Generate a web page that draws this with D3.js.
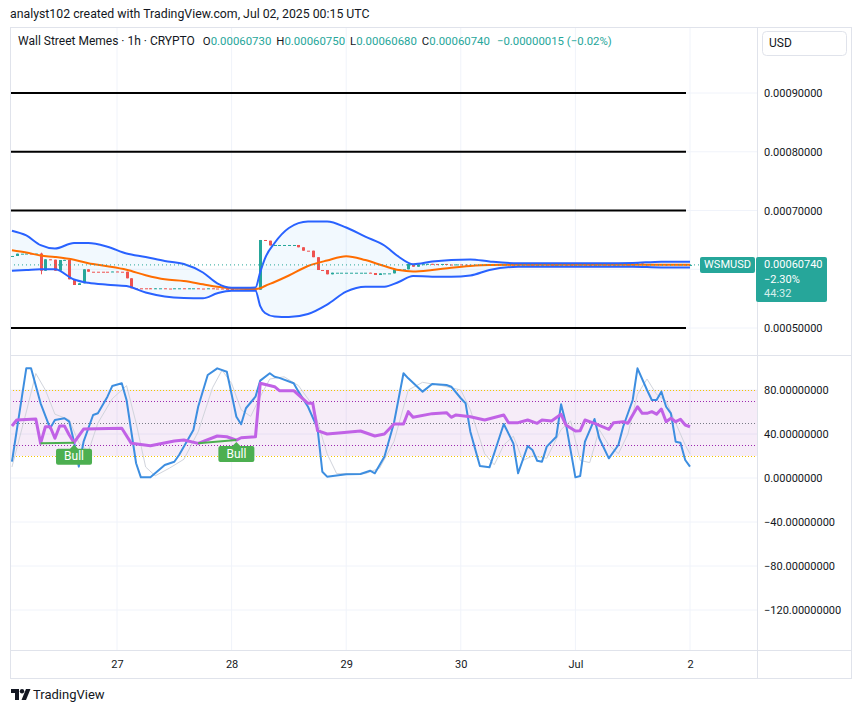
<!DOCTYPE html>
<html>
<head>
<meta charset="utf-8">
<script src="https://cdnjs.cloudflare.com/ajax/libs/d3/7.8.5/d3.min.js"></script>
<style>
  body { margin: 0; background: #ffffff; }
  svg text { font-family: Roboto, "Liberation Sans", sans-serif; fill: #131722; }
</style>
</head>
<body>
<div id="chart"></div>
<script>

// ---- data ----

// hourly bars, first one is Jun 26 02:00 UTC
var firstBarTime = Date.UTC(2025, 5, 26, 2);
var firstOpen = 0.0006224;
var closes = [
  0.0006226, 0.0006265, 0.0006265, 0.0006267, 0.0006265, 0.0006267, 0.0005975, 0.0006169, 0.0006163, 0.0005975,
  0.0006157, 0.0006160, 0.0005829, 0.0005732, 0.0005761, 0.0005999, 0.0005958, 0.0005958, 0.0005958, 0.0005958,
  0.0005958, 0.0005962, 0.0005958, 0.0005958, 0.0005846, 0.0005676, 0.0005676, 0.0005676, 0.0005676, 0.0005665,
  0.0005676, 0.0005676, 0.0005672, 0.0005672, 0.0005676, 0.0005676, 0.0005672, 0.0005676, 0.0005676, 0.0005672,
  0.0005672, 0.0005676, 0.0005672, 0.0005672, 0.0005666, 0.0005664, 0.0005652, 0.0005652, 0.0005652, 0.0005652,
  0.0005652, 0.0005652, 0.0006498, 0.0006486, 0.0006405, 0.0006413, 0.0006413, 0.0006413, 0.0006413, 0.0006413,
  0.0006374, 0.0006316, 0.0006316, 0.0006205, 0.0005987, 0.0005987, 0.0005914, 0.0005941, 0.0005941, 0.0005941,
  0.0005941, 0.0005941, 0.0005941, 0.0005941, 0.0005941, 0.0005936, 0.0005902, 0.0005930, 0.0005930, 0.0005930,
  0.0005999, 0.0005999, 0.0005999, 0.0006089, 0.0006043, 0.0006084, 0.0006086, 0.0006092, 0.0006088, 0.0006088,
  0.0006090, 0.0006080, 0.0006076, 0.0006082, 0.0006078, 0.0006076, 0.0006074, 0.0006076, 0.0006072, 0.0006078,
  0.0006082, 0.0006080, 0.0006078, 0.0006081, 0.0006079, 0.0006075, 0.0006077, 0.0006079, 0.0006076, 0.0006073,
  0.0006076, 0.0006078, 0.0006074, 0.0006071, 0.0006074, 0.0006077, 0.0006075, 0.0006072, 0.0006076, 0.0006078,
  0.0006075, 0.0006073, 0.0006076, 0.0006079, 0.0006076, 0.0006074, 0.0006077, 0.0006080, 0.0006077, 0.0006075,
  0.0006079, 0.0006098, 0.0006084, 0.0006082, 0.0006086, 0.0006080, 0.0006083, 0.0006079, 0.0006084, 0.0006078,
  0.0006081, 0.00060755, 0.0006074
];
// bars whose open is not the previous close: [bar, open]
var openFix = [[142, 0.0006073]];
// bars with visible wicks: [bar, high, low]
var wicks = [[6, 0.0006282, 0.0005914], [131, 0.0006119, 0.0006079], [142, 0.0006075, 0.0006068]];

// Bollinger bands, read at these bars
var bbIndex = [0, 3, 6, 9, 13, 16, 20, 24, 28, 32, 36, 40, 43, 46, 49, 51, 52, 53, 55, 58,
  62, 66, 70, 74, 78, 81, 84, 88, 92, 96, 100, 106, 112, 118, 124, 130, 136, 142];
var bbUpper = [0.0006656, 0.0006575, 0.0006410, 0.0006353, 0.0006447, 0.0006447, 0.0006384, 0.0006268, 0.0006209, 0.0006140,
  0.0006089, 0.0005945, 0.0005761, 0.0005686, 0.0005686, 0.0005689, 0.0005953, 0.0006186, 0.0006447, 0.0006702,
  0.0006813, 0.0006813, 0.0006711, 0.0006554, 0.0006404, 0.0006213, 0.0006084, 0.0006130, 0.0006157, 0.0006166,
  0.0006132, 0.0006101, 0.0006101, 0.0006101, 0.0006101, 0.0006106, 0.0006129, 0.0006129];
var bbMiddle = [0.0006323, 0.0006285, 0.0006234, 0.0006209, 0.0006161, 0.0006101, 0.0006052, 0.0005992, 0.0005899, 0.0005829,
  0.0005800, 0.0005744, 0.0005701, 0.0005672, 0.0005664, 0.0005664, 0.0005676, 0.0005715, 0.0005783, 0.0005894,
  0.0006055, 0.0006149, 0.0006222, 0.0006156, 0.0006054, 0.0005987, 0.0005962, 0.0005987, 0.0006025, 0.0006055,
  0.0006072, 0.0006077, 0.0006077, 0.0006077, 0.0006077, 0.0006077, 0.0006078, 0.0006078];
var bbLower = [0.0005974, 0.0005987, 0.0006001, 0.0005999, 0.0005826, 0.0005769, 0.0005737, 0.0005715, 0.0005604, 0.0005538,
  0.0005512, 0.0005507, 0.0005591, 0.0005635, 0.0005635, 0.0005635, 0.0005374, 0.0005255, 0.0005196, 0.0005187,
  0.0005238, 0.0005398, 0.0005618, 0.0005703, 0.0005703, 0.0005783, 0.0005885, 0.0005873, 0.0005873, 0.0005894,
  0.0005987, 0.0006043, 0.0006043, 0.0006043, 0.0006043, 0.0006043, 0.0006030, 0.0006030];

// the drawn horizontal levels
var levelLines = [0.0005, 0.0007, 0.0008, 0.0009];
var priceGrid = [0.0005, 0.0006, 0.0007, 0.0008, 0.0009];
// 0.0006 sits under the price badge, so no label there
var priceTicks = [0.0005, 0.0007, 0.0008, 0.0009];

// RSI (purple)
var rsiIndex = [0, 1, 5, 6, 7, 8, 9, 10, 11, 12, 13, 15, 23, 25, 29, 34, 36, 39, 43, 45,
  47, 48, 51, 52, 55, 56, 59, 62, 63, 64, 66, 69, 73, 76, 78, 80, 82, 83, 84, 88,
  91, 92, 93, 96, 99, 103, 104, 106, 108, 110, 111, 113, 115, 116, 118, 119, 120, 122, 125, 126,
  128, 129, 130, 131, 132, 133, 134, 135, 136, 137, 138, 139, 140, 141, 142];
var rsiValues = [47.3, 52.7, 53.6, 31.5, 46.6, 46.6, 36.1, 47.3, 47.3, 39.1, 32.1, 44.5, 45.2, 31.5, 29.4, 33.6, 34.5, 31.5, 38.2, 37.5,
  34.5, 36.6, 37.5, 86.1, 83.0, 79.4, 79.4, 67.9, 67.9, 43.0, 40.0, 41.2, 42.7, 38.2, 40.0, 49.1, 49.1, 60.3, 55.2, 58.5,
  59.4, 55.2, 57.3, 55.7, 52.7, 57.3, 50.3, 50.3, 52.7, 49.7, 52.7, 51.8, 57.9, 48.2, 42.7, 43.0, 52.7, 49.7, 44.3, 50.3,
  51.2, 49.7, 57.3, 64.8, 58.8, 58.8, 60.3, 58.0, 62.7, 51.2, 54.3, 51.2, 53.4, 48.2, 46.6];

// Stochastic %K (blue)
var kIndex = [0, 3, 4, 6, 8, 9, 11, 12, 13, 14, 15, 17, 18, 20, 21, 23, 24, 26, 27, 29,
  32, 34, 35, 38, 39, 41, 43, 45, 47, 48, 49, 51, 52, 54, 55, 56, 59, 60, 62, 64,
  65, 66, 70, 73, 75, 76, 78, 80, 82, 83, 86, 88, 91, 92, 94, 95, 96, 98, 100, 101,
  103, 105, 106, 108, 109, 110, 111, 112, 114, 115, 116, 118, 119, 120, 122, 123, 125, 127, 128, 130,
  131, 133, 134, 135, 136, 137, 138, 139, 140, 141, 142];
var kValues = [14.8, 99.7, 99.7, 67.9, 45.2, 52.7, 54.3, 51.2, 33.0, 10.3, 33.0, 57.3, 58.8, 73.9, 83.6, 86.1, 70.9, 13.4, 0.6, 0.6,
  11.8, 14.8, 20.9, 43.6, 64.8, 93.6, 99.7, 96.6, 55.7, 48.8, 63.4, 73.9, 88.5, 95.2, 92.1, 91.0, 86.1, 78.5, 64.8, 45.2,
  5.7, 1.2, 3.4, 3.6, 6.6, 4.3, 19.4, 50.0, 95.2, 90.6, 78.5, 85.5, 84.5, 83.0, 72.5, 67.9, 42.1, 10.9, 9.7, 22.5,
  49.1, 31.5, 4.3, 29.1, 25.5, 15.7, 14.8, 28.5, 37.5, 67.0, 49.7, 0.6, 1.8, 33.0, 53.6, 36.1, 17.9, 30.0, 46.6, 70.9,
  99.7, 80.0, 70.9, 70.9, 78.5, 64.8, 58.8, 33.0, 32.1, 16.4, 10.3];

// Stochastic %D (light grey)
var dIndex = [0, 3, 5, 7, 9, 12, 14, 16, 18, 21, 24, 26, 28, 30, 33, 36, 39, 42, 44, 46,
  48, 50, 52, 54, 57, 60, 63, 66, 68, 74, 77, 80, 83, 86, 90, 94, 96, 99, 101, 103,
  105, 107, 109, 112, 115, 117, 119, 121, 123, 125, 127, 129, 131, 133, 135, 137, 139, 141, 142];
var dValues = [10, 60, 95, 80, 58, 53, 32, 24, 50, 72, 84, 50, 10, 2, 9, 17, 42, 82, 98, 86,
  62, 56, 74, 90, 92, 84, 66, 22, 4, 4, 9, 33, 80, 87, 84, 80, 62, 22, 12, 30,
  38, 16, 20, 18, 44, 52, 16, 14, 44, 30, 22, 40, 76, 90, 76, 70, 50, 30, 22];

// bullish divergences on the RSI: [from bar, to bar]
var bullSignals = [[6, 13], [39, 47]];

var oscTicks = [-120, -80, -40, 0, 40, 80];
var oscBands = {upper: 80, lower: 20, high: 70, mid: 50, low: 30};

var dayTicks = [Date.UTC(2025, 5, 27), Date.UTC(2025, 5, 28), Date.UTC(2025, 5, 29),
  Date.UTC(2025, 5, 30), Date.UTC(2025, 6, 1), Date.UTC(2025, 6, 2)];
var dayLabels = ["27", "28", "29", "30", "Jul", "2"];

var headerNote = "analyst102 created with TradingView.com, Jul 02, 2025 00:15 UTC";
var symbolName = "Wall Street Memes · 1h · CRYPTO";
var ohlcLabels = ["O", "H", "L", "C"];
var ohlcValues = ["0.00060730", "0.00060750", "0.00060680", "0.00060740"];
var changeText = "\u22120.00000015 (\u22120.02%)";
var tickerName = "WSMUSD";
var badgeLines = ["0.00060740", "\u22122.30%", "44:32"];

// ---- layout ----
var svgWidth = 859;
var svgHeight = 714;

var frame = {left: 10, right: 851, top: 27, bottom: 678};
var axisX = 757;
var mainPane = {top: 27, bottom: 355};
var oscPane = {top: 356, bottom: 650};

var teal = "#26a69a";
var red = "#ef5350";

var svg = d3.select("#chart")
  .append("svg")
  .attr("width", svgWidth)
  .attr("height", svgHeight);

var barTime = function(i) { return new Date(firstBarTime + i * 3600 * 1000); };

// scales
var xScale = d3.scaleTime()
  .domain([new Date(dayTicks[0]), new Date(dayTicks[5])])
  .range([117, 690]);

var yPrice = d3.scaleLinear()
  .domain([0.0005, 0.0009])
  .range([328, 93]);

var yOsc = d3.scaleLinear()
  .domain([-120, 80])
  .range([610, 390]);

// clip paths for both panes
var defs = svg.append("defs");
defs.append("clipPath").attr("id", "clipMain")
  .append("rect")
  .attr("x", frame.left).attr("y", mainPane.top)
  .attr("width", axisX - frame.left).attr("height", mainPane.bottom - mainPane.top);
defs.append("clipPath").attr("id", "clipOsc")
  .append("rect")
  .attr("x", frame.left).attr("y", oscPane.top)
  .attr("width", axisX - frame.left).attr("height", oscPane.bottom - oscPane.top);

// header line above the chart
svg.append("text")
  .attr("x", 10)
  .attr("y", 15)
  .attr("dominant-baseline", "middle")
  .style("font-size", "12.3px")
  .text(headerNote);

// grid lines
var grid = svg.append("g");
grid.selectAll(".vgrid")
  .data(dayTicks)
  .enter()
  .append("line")
  .attr("x1", d => xScale(new Date(d)))
  .attr("x2", d => xScale(new Date(d)))
  .attr("y1", frame.top)
  .attr("y2", oscPane.bottom)
  .attr("stroke", "#f0f3fa");

grid.selectAll(".pgrid")
  .data(priceGrid)
  .enter()
  .append("line")
  .attr("x1", frame.left)
  .attr("x2", axisX)
  .attr("y1", d => yPrice(d))
  .attr("y2", d => yPrice(d))
  .attr("stroke", "#f0f3fa");

grid.selectAll(".ogrid")
  .data(oscTicks)
  .enter()
  .append("line")
  .attr("x1", frame.left)
  .attr("x2", axisX)
  .attr("y1", d => yOsc(d))
  .attr("y2", d => yOsc(d))
  .attr("stroke", "#f0f3fa");

// ---- main pane ----
var main = svg.append("g").attr("clip-path", "url(#clipMain)");

// black level lines
main.selectAll(".level")
  .data(levelLines)
  .enter()
  .append("line")
  .attr("x1", frame.left)
  .attr("x2", 686)
  .attr("y1", d => yPrice(d))
  .attr("y2", d => yPrice(d))
  .attr("stroke", "#000000")
  .attr("stroke-width", 2);

// bollinger band fill
var bbData = bbIndex.map(function(b, i) {
  return {t: barTime(b), up: bbUpper[i], mid: bbMiddle[i], lo: bbLower[i]};
});

main.append("path")
  .datum(bbData)
  .attr("fill", "rgba(33, 150, 243, 0.06)")
  .attr("d", d3.area()
    .curve(d3.curveMonotoneX)
    .x(d => xScale(d.t))
    .y0(d => yPrice(d.lo))
    .y1(d => yPrice(d.up)));

// candles
var bars = closes.map(function(c, i) {
  return {i: i, t: barTime(i), open: i === 0 ? firstOpen : closes[i - 1], close: c};
});
openFix.forEach(function(f) { bars[f[0]].open = f[1]; });
bars.forEach(function(b) {
  b.high = Math.max(b.open, b.close);
  b.low = Math.min(b.open, b.close);
});
wicks.forEach(function(w) { bars[w[0]].high = w[1]; bars[w[0]].low = w[2]; });

// a flat bar keeps the colour of the last bar that moved
var lastUp = true;
bars.forEach(function(b) {
  if (b.close > b.open) lastUp = true;
  else if (b.close < b.open) lastUp = false;
  b.up = lastUp;
});

var candles = main.append("g");
candles.selectAll(".wick")
  .data(bars)
  .enter()
  .append("line")
  .attr("x1", d => Math.round(xScale(d.t)) + 0.5)
  .attr("x2", d => Math.round(xScale(d.t)) + 0.5)
  .attr("y1", d => yPrice(d.high))
  .attr("y2", d => yPrice(d.low))
  .attr("stroke", d => d.up ? teal : red);

candles.selectAll(".body")
  .data(bars)
  .enter()
  .append("rect")
  .attr("x", d => Math.round(xScale(d.t)) - 1)
  .attr("width", 3)
  .attr("y", d => yPrice(Math.max(d.open, d.close)))
  .attr("height", d => Math.max(1, yPrice(Math.min(d.open, d.close)) - yPrice(Math.max(d.open, d.close))))
  .attr("fill", d => d.up ? teal : red);

// bollinger lines
var bbLine = function(key) {
  return d3.line()
    .curve(d3.curveMonotoneX)
    .x(d => xScale(d.t))
    .y(d => yPrice(d[key]));
};

main.append("path")
  .datum(bbData)
  .attr("fill", "none")
  .attr("stroke", "#ff6d00")
  .attr("stroke-width", 2)
  .attr("d", bbLine("mid"));

["up", "lo"].forEach(function(key) {
  main.append("path")
    .datum(bbData)
    .attr("fill", "none")
    .attr("stroke", "#2962ff")
    .attr("stroke-width", 2)
    .attr("d", bbLine(key));
});

// last price dotted line
var lastClose = closes[closes.length - 1];
main.append("line")
  .attr("x1", frame.left)
  .attr("x2", axisX)
  .attr("y1", yPrice(lastClose))
  .attr("y2", yPrice(lastClose))
  .attr("stroke", teal)
  .attr("stroke-dasharray", "1,3");

// ---- oscillator pane ----
var osc = svg.append("g").attr("clip-path", "url(#clipOsc)");

osc.append("rect")
  .attr("x", frame.left)
  .attr("width", axisX - frame.left)
  .attr("y", yOsc(oscBands.upper))
  .attr("height", yOsc(oscBands.lower) - yOsc(oscBands.upper))
  .attr("fill", "rgba(156, 39, 176, 0.09)");

var bandLines = [
  {v: oscBands.upper, c: "#f5c400"},
  {v: oscBands.high, c: "#9c27b0"},
  {v: oscBands.mid, c: "#787b86"},
  {v: oscBands.low, c: "#9c27b0"},
  {v: oscBands.lower, c: "#f5c400"}
];
osc.selectAll(".band")
  .data(bandLines)
  .enter()
  .append("line")
  .attr("x1", frame.left)
  .attr("x2", axisX)
  .attr("y1", d => Math.round(yOsc(d.v)) + 0.5)
  .attr("y2", d => Math.round(yOsc(d.v)) + 0.5)
  .attr("stroke", d => d.c)
  .attr("stroke-dasharray", "1,2");

var oscLine = d3.line()
  .x(d => xScale(barTime(d[0])))
  .y(d => yOsc(d[1]));

osc.append("path")
  .datum(dIndex.map((b, i) => [b, dValues[i]]))
  .attr("fill", "none")
  .attr("stroke", "#d1d4dc")
  .attr("stroke-width", 1)
  .attr("d", oscLine);

osc.append("path")
  .datum(kIndex.map((b, i) => [b, kValues[i]]))
  .attr("fill", "none")
  .attr("stroke", "#3d8ee0")
  .attr("stroke-width", 2)
  .attr("stroke-linejoin", "round")
  .attr("d", oscLine);

var rsiAt = function(b) { return rsiValues[rsiIndex.indexOf(b)]; };

osc.append("path")
  .datum(rsiIndex.map((b, i) => [b, rsiValues[i]]))
  .attr("fill", "none")
  .attr("stroke", "#c162e6")
  .attr("stroke-width", 3)
  .attr("stroke-linejoin", "round")
  .attr("d", oscLine);

// bull divergence lines and labels
bullSignals.forEach(function(s) {
  var x1 = xScale(barTime(s[0])), y1 = yOsc(rsiAt(s[0]));
  var x2 = xScale(barTime(s[1])), y2 = yOsc(rsiAt(s[1]));
  osc.append("line")
    .attr("x1", x1).attr("y1", y1)
    .attr("x2", x2).attr("y2", y2)
    .attr("stroke", "#4caf50")
    .attr("stroke-width", 2);

  var g = osc.append("g").attr("transform", `translate(${x2}, ${y2})`);
  g.append("path")
    .attr("d", "M0,2 L4,6 L16,6 Q18,6 18,8 L18,20 Q18,22 16,22 L-16,22 Q-18,22 -18,20 L-18,8 Q-18,6 -16,6 L-4,6 Z")
    .attr("fill", "#4caf50");
  g.append("text")
    .attr("x", 0)
    .attr("y", 14.5)
    .attr("text-anchor", "middle")
    .attr("dominant-baseline", "middle")
    .style("font-size", "12px")
    .style("fill", "#ffffff")
    .text("Bull");
});

// ---- frame, separators ----
var frameG = svg.append("g").attr("fill", "none").attr("stroke", "#e0e3eb");
frameG.append("rect")
  .attr("x", frame.left + 0.5)
  .attr("y", frame.top + 0.5)
  .attr("width", frame.right - frame.left)
  .attr("height", frame.bottom - frame.top);
frameG.append("line")
  .attr("x1", frame.left).attr("x2", frame.right)
  .attr("y1", mainPane.bottom + 0.5).attr("y2", mainPane.bottom + 0.5);
frameG.append("line")
  .attr("x1", frame.left).attr("x2", frame.right)
  .attr("y1", oscPane.bottom + 0.5).attr("y2", oscPane.bottom + 0.5);
frameG.append("line")
  .attr("x1", axisX + 0.5).attr("x2", axisX + 0.5)
  .attr("y1", frame.top).attr("y2", frame.bottom);

// ---- axes ----
var priceAxis = svg.append("g")
  .attr("transform", `translate(${axisX}, 0)`)
  .call(d3.axisRight(yPrice)
    .tickValues(priceTicks)
    .tickFormat(d3.format(".8f"))
    .tickSize(0)
    .tickPadding(7));
priceAxis.select(".domain").remove();

var oscAxis = svg.append("g")
  .attr("transform", `translate(${axisX}, 0)`)
  .call(d3.axisRight(yOsc)
    .tickValues(oscTicks)
    .tickFormat(d3.format(".8f"))
    .tickSize(0)
    .tickPadding(7));
oscAxis.select(".domain").remove();

var timeAxis = svg.append("g")
  .attr("transform", `translate(0, ${oscPane.bottom})`)
  .call(d3.axisBottom(xScale)
    .tickValues(dayTicks.map(d => new Date(d)))
    .tickFormat((d, i) => dayLabels[i])
    .tickSize(0)
    .tickPadding(10));
timeAxis.select(".domain").remove();

svg.selectAll(".tick text")
  .style("font-size", "11px")
  .style("font-family", "Roboto, 'Liberation Sans', sans-serif")
  .attr("fill", "#131722");

// ---- legend row ----
var legend = svg.append("text")
  .attr("x", 18)
  .attr("y", 42)
  .attr("dominant-baseline", "middle")
  .style("font-size", "11.4px");
legend.append("tspan").style("font-size", "12px").text(symbolName);
ohlcLabels.forEach(function(l, i) {
  legend.append("tspan").attr("dx", i === 0 ? 8 : 5).text(l);
  legend.append("tspan").style("fill", teal).text(ohlcValues[i]);
});
legend.append("tspan").attr("dx", 7).style("fill", teal).text(changeText);

// currency box
svg.append("rect")
  .attr("x", 762.5).attr("y", 31.5)
  .attr("width", 84).attr("height", 24)
  .attr("rx", 4)
  .attr("fill", "#ffffff")
  .attr("stroke", "#e0e3eb");
svg.append("text")
  .attr("x", 769).attr("y", 43.5)
  .attr("dominant-baseline", "middle")
  .style("font-size", "12px")
  .text("USD");

// ---- last price badges ----
var py = yPrice(lastClose);
svg.append("rect")
  .attr("x", 700).attr("y", py - 8)
  .attr("width", 55).attr("height", 16)
  .attr("rx", 2)
  .attr("fill", teal);
svg.append("text")
  .attr("x", 727.5).attr("y", py + 0.5)
  .attr("text-anchor", "middle")
  .attr("dominant-baseline", "middle")
  .style("font-size", "11px")
  .style("fill", "#ffffff")
  .text(tickerName);

svg.append("rect")
  .attr("x", 756).attr("y", py - 8)
  .attr("width", 71).attr("height", 45)
  .attr("rx", 2)
  .attr("fill", teal);
badgeLines.forEach(function(t, i) {
  svg.append("text")
    .attr("x", 764).attr("y", py + 0.5 + i * 14.3)
    .attr("dominant-baseline", "middle")
    .style("font-size", "11px")
    .style("fill", i === 2 ? "#d6efec" : "#ffffff")
    .text(t);
});

// ---- TradingView logo ----
var logo = svg.append("g").attr("transform", "translate(11, 689)").attr("fill", "#131722");
logo.append("path").attr("d", "M0,0 H8 V11 H4 V4 H0 Z");
logo.append("circle").attr("cx", 11).attr("cy", 2.2).attr("r", 2.2);
logo.append("path").attr("d", "M15,0 H19.5 L15,11 H10.5 Z");
svg.append("text")
  .attr("x", 33).attr("y", 695.5)
  .attr("dominant-baseline", "middle")
  .style("font-size", "13px")
  .text("TradingView");

</script>
</body>
</html>
